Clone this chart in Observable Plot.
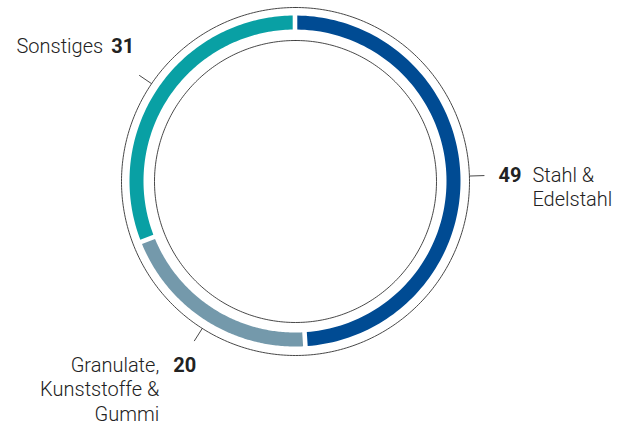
<!DOCTYPE html>
<html>
<head>
<meta charset="utf-8">
<script src="https://cdn.jsdelivr.net/npm/d3@7"></script>
<script src="https://cdn.jsdelivr.net/npm/@observablehq/plot@0.6"></script>
<style>
  html, body { margin: 0; padding: 0; background: #fff; }
  #chart svg { display: block; }
</style>
</head>
<body>
<div id="chart"></div>
<script>
// ---- data ----
const categories = ["Stahl & Edelstahl", "Granulate, Kunststoffe & Gummi", "Sonstiges"];
const values = [49, 20, 31];
const colors = ["#004b93", "#7499ab", "#09a0a4"];
const labelLines = ["Stahl &\nEdelstahl", "Granulate,\nKunststoffe &\nGummi", "Sonstiges"];

// ---- geometry (pixels) ----
const W = 626, H = 425;
const CX = 295, CY = 181;
const K = 165.5;          // ring outer radius = 1 unit
const R_OUT = 165.5, R_IN = 151.5;
const R_CIRC_OUT = 174, R_CIRC_IN = 141;
const GAP = 4.6, LEADER = 15;

const total = d3.sum(values);
let cum = 0;
const segs = categories.map((c, i) => {
  const a0 = cum / total * 2 * Math.PI;
  cum += values[i];
  const a1 = cum / total * 2 * Math.PI;
  return {category: c, value: values[i], label: labelLines[i], a0, a1, mid: (a0 + a1) / 2};
});
const pt = (a, r) => [Math.sin(a) * r / K, Math.cos(a) * r / K];

// ring segments as areas between outer and inner arcs
const areaPts = [];
for (const s of segs) {
  const n = 120;
  const o0 = s.a0 + GAP / 2 / R_OUT, o1 = s.a1 - GAP / 2 / R_OUT;
  const i0 = s.a0 + GAP / 2 / R_IN, i1 = s.a1 - GAP / 2 / R_IN;
  for (let k = 0; k <= n; k++) {
    const [x1, y1] = pt(o0 + (o1 - o0) * k / n, R_OUT);
    const [x2, y2] = pt(i0 + (i1 - i0) * k / n, R_IN);
    areaPts.push({category: s.category, x1, y1, x2, y2});
  }
}

// thin reference circles
const circPts = [];
for (const [name, r] of [["outer", R_CIRC_OUT], ["inner", R_CIRC_IN]]) {
  for (let k = 0; k <= 360; k++) {
    const [x, y] = pt(k / 360 * 2 * Math.PI, r);
    circPts.push({name, x, y});
  }
}

// leaders
const leaders = segs.map(s => {
  const [x1, y1] = pt(s.mid, R_CIRC_OUT);
  const [x2, y2] = pt(s.mid, R_CIRC_OUT + LEADER);
  return {...s, x1, y1, x2, y2};
});
const [stahl, gran, sonst] = leaders;

const FONT = "Roboto, 'Liberation Sans', sans-serif";
const common = {fontFamily: FONT, fontSize: 20, fill: "#222", lineAnchor: "top", lineHeight: 1.22};

const chart = Plot.plot({
  width: W, height: H,
  margin: 0,
  x: {domain: [-CX / K, (W - CX) / K], axis: null},
  y: {domain: [-(H - CY) / K, CY / K], axis: null},
  color: {domain: categories, range: colors},
  style: {background: "#fff", overflow: "visible"},
  marks: [
    Plot.line(circPts, {x: "x", y: "y", z: "name", stroke: "#333", strokeWidth: 0.9}),
    Plot.area(areaPts, {x1: "x1", y1: "y1", x2: "x2", y2: "y2", z: "category", fill: "category", curve: "linear"}),
    Plot.link(leaders, {x1: "x1", y1: "y1", x2: "x2", y2: "y2", stroke: "#333", strokeWidth: 0.9}),
    // Stahl & Edelstahl (right)
    Plot.text([stahl], {x: "x2", y: "y2", text: d => String(d.value), textAnchor: "start", dx: 14, dy: -11, fontWeight: 700, ...common}),
    Plot.text([stahl], {x: "x2", y: "y2", text: "label", textAnchor: "start", dx: 48, dy: -11, fontWeight: 300, ...common}),
    // Granulate (lower left)
    Plot.text([gran], {x: "x2", y: "y2", text: d => String(d.value), textAnchor: "start", dx: -21, dy: 13.5, fontWeight: 700, ...common}),
    Plot.text([gran], {x: "x2", y: "y2", text: "label", textAnchor: "end", dx: -35, dy: 13.5, fontWeight: 300, ...common}),
    // Sonstiges (upper left)
    Plot.text([sonst], {x: "x2", y: "y2", text: d => String(d.value), textAnchor: "end", dx: -5, dy: -39.5, fontWeight: 700, ...common}),
    Plot.text([sonst], {x: "x2", y: "y2", text: "label", textAnchor: "end", dx: -36, dy: -39.5, fontWeight: 300, ...common})
  ]
});
document.getElementById("chart").appendChild(chart);
</script>
</body>
</html>
